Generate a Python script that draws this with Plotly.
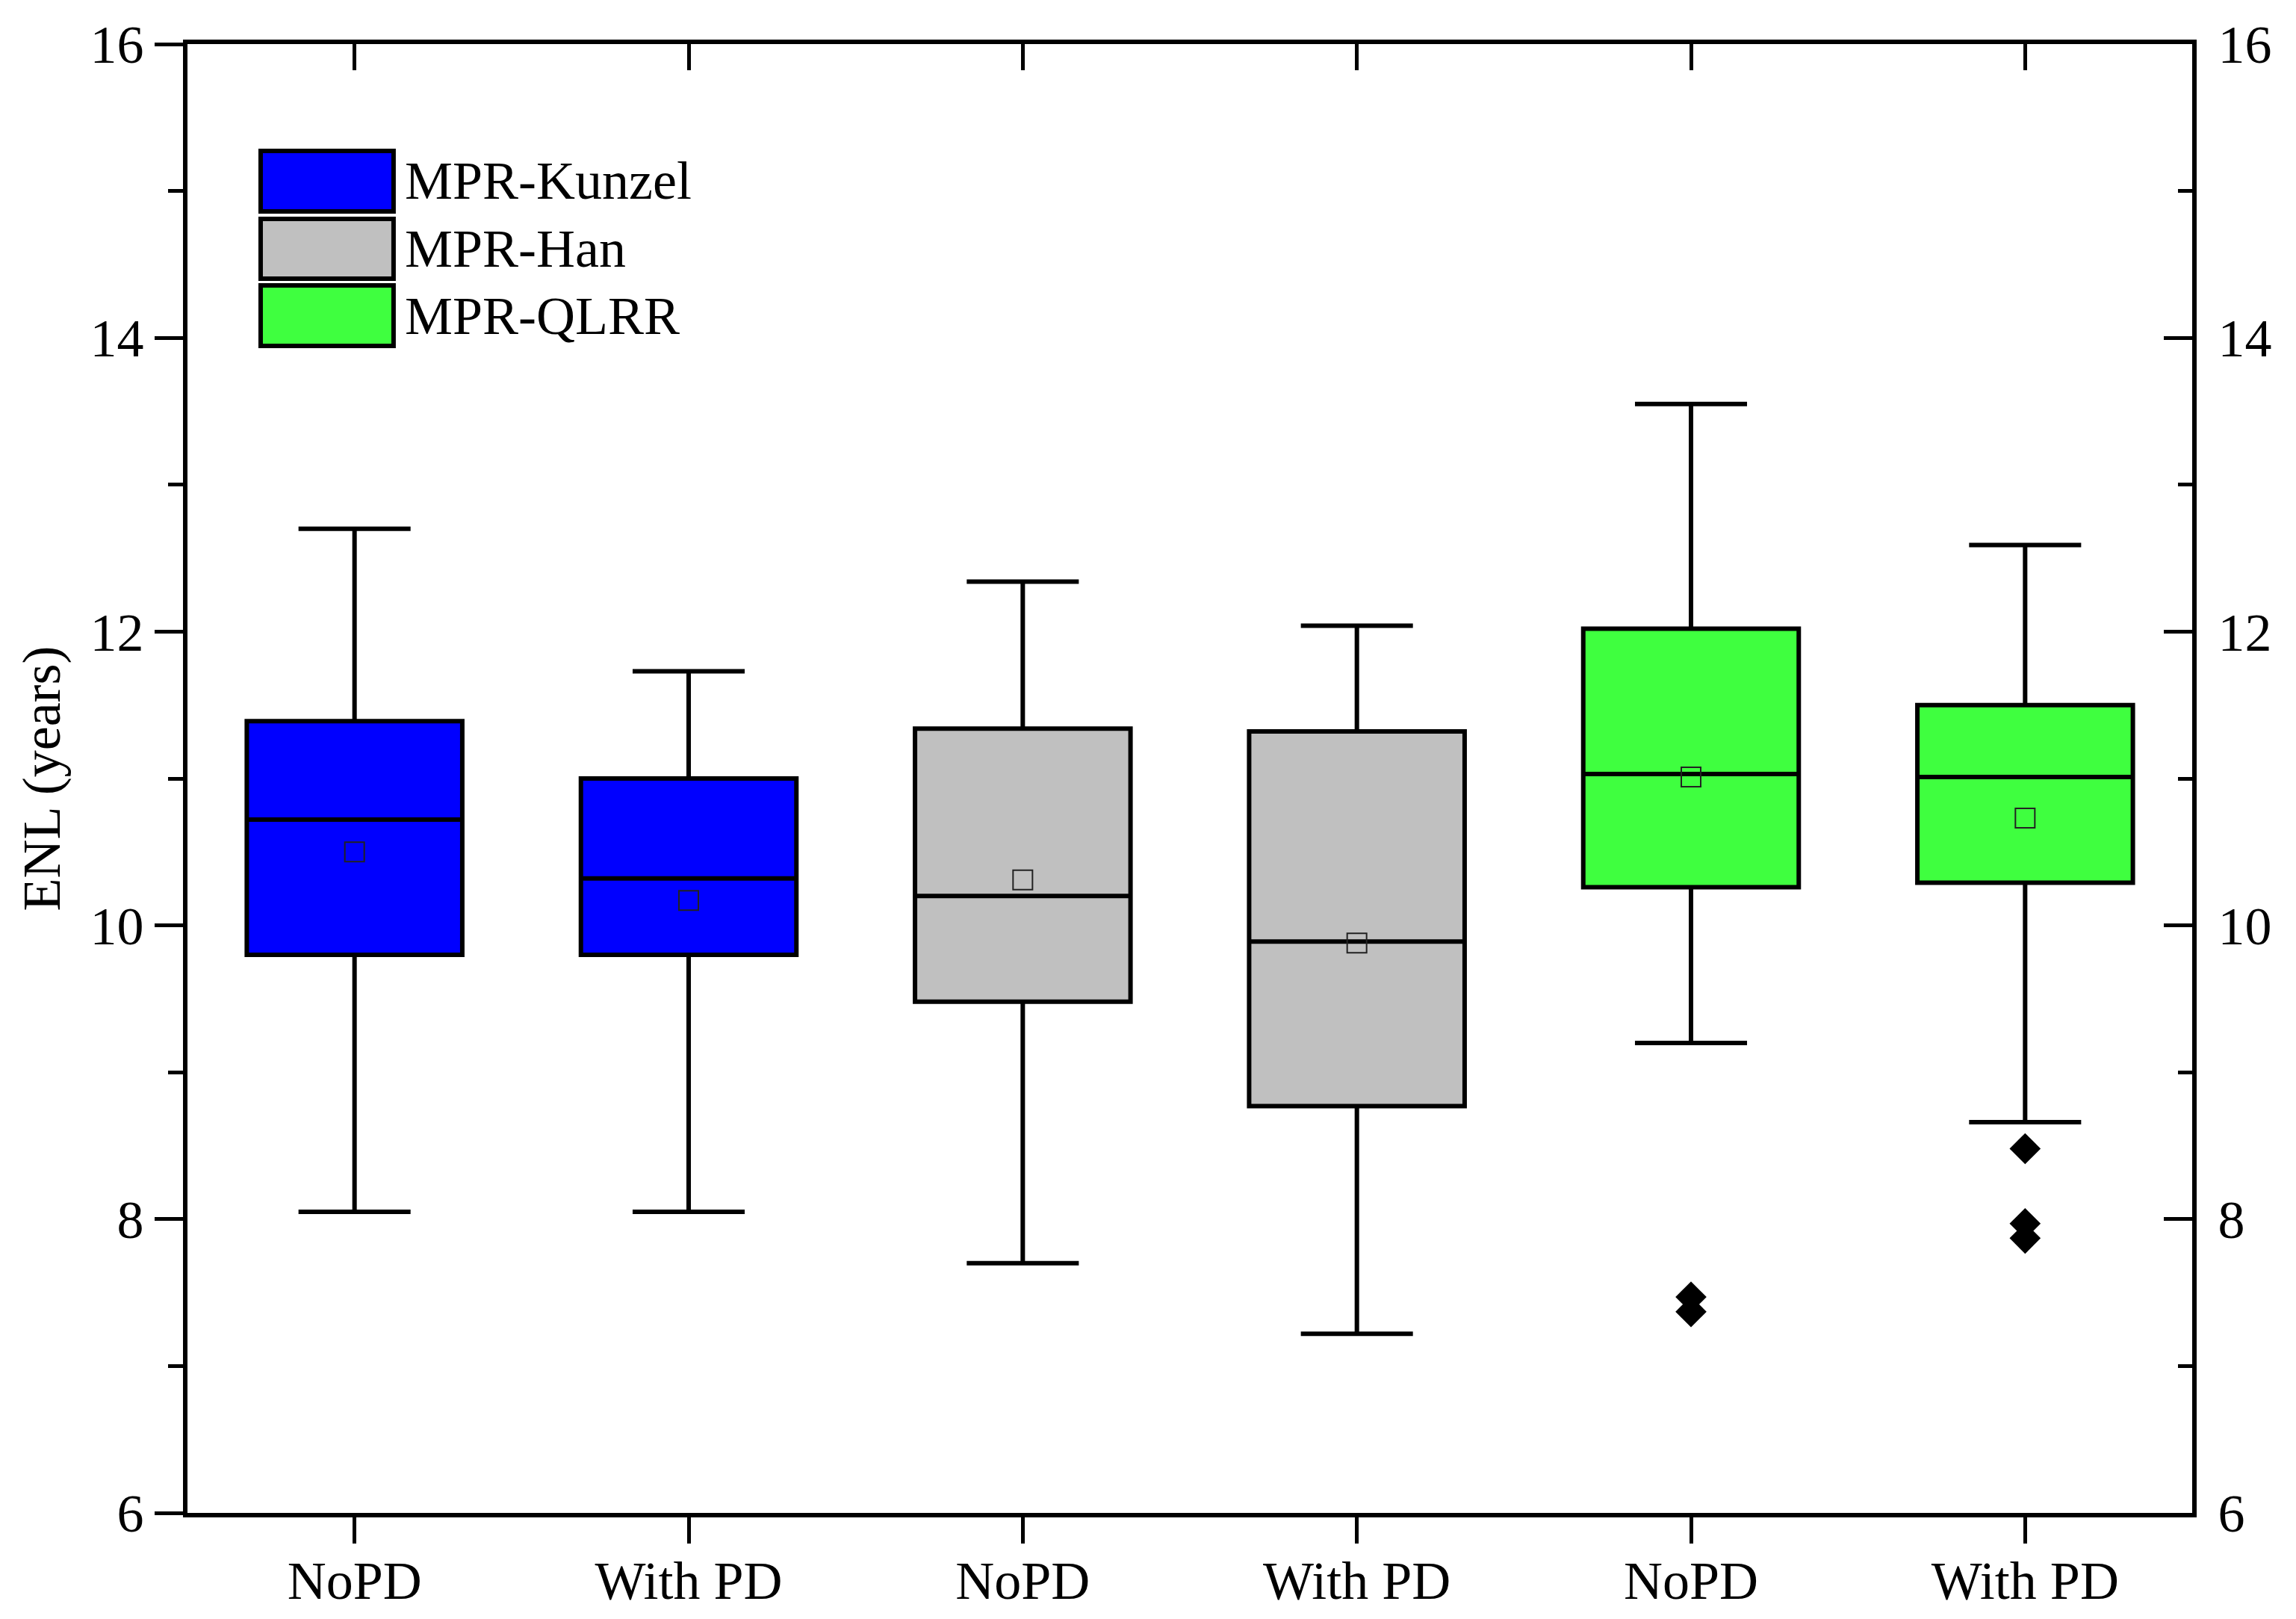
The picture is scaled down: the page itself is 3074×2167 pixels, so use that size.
import plotly.graph_objects as go

methods = ["MPR-Kunzel", "MPR-Han", "MPR-QLRR"]
colors = ["#0000FF", "#C0C0C0", "#3FFF3F"]
categories = ["NoPD", "With PD", "NoPD", "With PD", "NoPD", "With PD"]

# box statistics per category, left to right
q1 = [9.80, 9.80, 9.48, 8.77, 10.26, 10.29]
median = [10.72, 10.32, 10.20, 9.89, 11.03, 11.01]
q3 = [11.39, 11.00, 11.34, 11.32, 12.02, 11.50]
lower = [8.05, 8.05, 7.70, 7.22, 9.20, 8.66]
upper = [12.70, 11.73, 12.34, 12.04, 13.55, 12.59]
mean = [10.50, 10.17, 10.31, 9.88, 11.01, 10.73]

outlier_x = [4, 4, 5, 5, 5]
outlier_y = [7.47, 7.37, 8.48, 7.97, 7.87]

font = "Liberation Serif"
fs = 72

fig = go.Figure()

for k, name in enumerate(methods):
    idx = [2 * k, 2 * k + 1]
    fig.add_trace(go.Box(
        x=idx,
        q1=[q1[i] for i in idx],
        median=[median[i] for i in idx],
        q3=[q3[i] for i in idx],
        lowerfence=[lower[i] for i in idx],
        upperfence=[upper[i] for i in idx],
        name=name,
        width=0.645,
        whiskerwidth=0.52,
        fillcolor=colors[k],
        line=dict(color="black", width=6),
        boxpoints=False,
        showlegend=False,
    ))

# mean markers
fig.add_trace(go.Scatter(
    x=list(range(len(mean))), y=mean, mode="markers",
    marker=dict(symbol="square-open", size=26, color="#222222", line=dict(width=2)),
    showlegend=False,
))

# outliers
fig.add_trace(go.Scatter(
    x=outlier_x, y=outlier_y, mode="markers",
    marker=dict(symbol="diamond", size=32, color="black"),
    showlegend=False,
))

# manual legend with large swatches
swatch_y = [(0.9273, 0.8861), (0.8810, 0.8403), (0.8357, 0.7945)]
for k, name in enumerate(methods):
    y1, y0 = swatch_y[k]
    fig.add_shape(type="rect", xref="paper", yref="paper",
                  x0=0.0365, x1=0.1028, y0=y0, y1=y1,
                  fillcolor=colors[k], line=dict(color="black", width=6))
    fig.add_annotation(xref="paper", yref="paper", x=0.1075, y=(y0 + y1) / 2,
                       text=name, showarrow=False, xanchor="left", yanchor="middle",
                       font=dict(family=font, size=fs, color="black"))

axis_common = dict(showline=True, linecolor="black", linewidth=6, showgrid=False,
                   zeroline=False, tickcolor="black", tickwidth=5, automargin=False,
                   tickfont=dict(family=font, size=fs, color="black"))

# page body has an 8px margin, so the figure is shrunk and margins shifted
fig.update_layout(
    width=3058, height=2151,
    margin=dict(l=243, r=131, t=51, b=134),
    plot_bgcolor="white", paper_bgcolor="white",
    showlegend=False,
    xaxis=dict(range=[-0.5, 5.5], tickvals=list(range(6)), ticktext=categories,
               ticks="outside", ticklen=35, ticklabelstandoff=-12, **axis_common),
    xaxis2=dict(range=[-0.5, 5.5], tickvals=list(range(6)), overlaying="x", side="top",
                ticks="inside", ticklen=35, showticklabels=False, **axis_common),
    yaxis=dict(range=[6, 16], tickvals=[6, 8, 10, 12, 14, 16], ticks="outside", ticklen=38,
               minor=dict(dtick=1, ticks="outside", ticklen=20, tickwidth=5, tickcolor="black"),
               title=dict(text="ENL (years)", standoff=18,
                          font=dict(family=font, size=fs, color="black")),
               **axis_common),
    yaxis2=dict(range=[6, 16], tickvals=[6, 8, 10, 12, 14, 16], overlaying="y", side="right",
                ticks="inside", ticklen=38, ticklabelstandoff=14,
                minor=dict(dtick=1, ticks="inside", ticklen=19, tickwidth=5, tickcolor="black"),
                **axis_common),
)

# invisible trace so the top and right axes are drawn
fig.add_trace(go.Scatter(x=[0], y=[10], xaxis="x2", yaxis="y2", mode="markers",
                         marker=dict(opacity=0), showlegend=False, hoverinfo="skip"))

fig.write_html("out.html")
